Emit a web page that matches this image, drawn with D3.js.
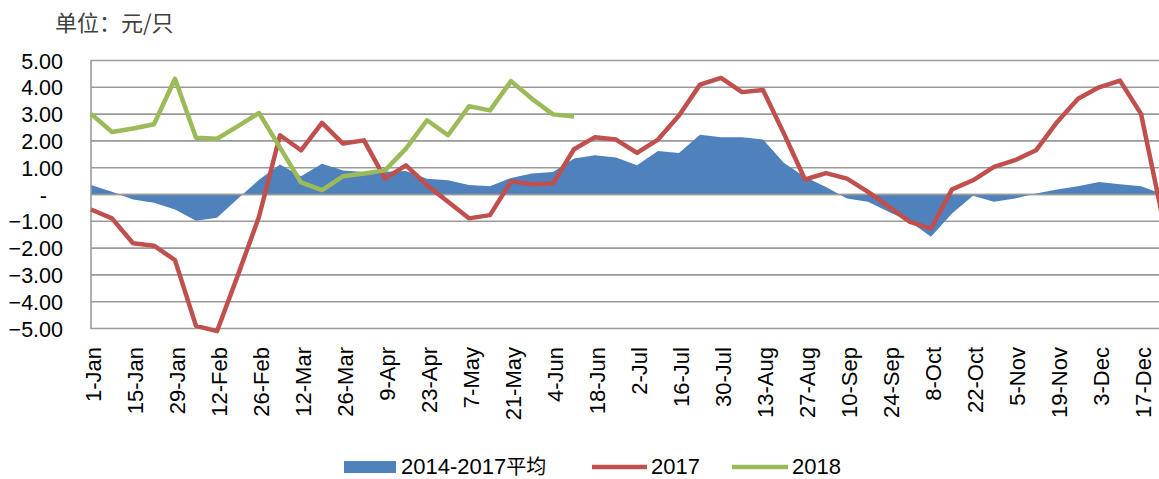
<!DOCTYPE html>
<html><head><meta charset="utf-8">
<script src="https://cdn.jsdelivr.net/npm/d3@7"></script>
<style>body{margin:0;background:#fff;} text{font-family:"Liberation Sans",Arial,sans-serif;}</style>
</head><body>
<svg id="chart" width="1159" height="479"></svg>
<script>
const weeks = ["1-Jan","8-Jan","15-Jan","22-Jan","29-Jan","5-Feb","12-Feb","19-Feb","26-Feb","5-Mar","12-Mar","19-Mar","26-Mar","2-Apr","9-Apr","16-Apr","23-Apr","30-Apr","7-May","14-May","21-May","28-May","4-Jun","11-Jun","18-Jun","25-Jun","2-Jul","9-Jul","16-Jul","23-Jul","30-Jul","6-Aug","13-Aug","20-Aug","27-Aug","3-Sep","10-Sep","17-Sep","24-Sep","1-Oct","8-Oct","15-Oct","22-Oct","29-Oct","5-Nov","12-Nov","19-Nov","26-Nov","3-Dec","10-Dec","17-Dec","24-Dec"];
const avg1417 = [0.35,0.10,-0.19,-0.31,-0.56,-0.98,-0.87,-0.15,0.55,1.12,0.68,1.15,0.90,0.84,0.85,0.88,0.59,0.53,0.35,0.31,0.62,0.78,0.84,1.34,1.46,1.38,1.09,1.62,1.55,2.23,2.14,2.14,2.05,1.18,0.65,0.28,-0.15,-0.27,-0.65,-1.02,-1.58,-0.71,-0.05,-0.27,-0.15,0.04,0.19,0.31,0.47,0.38,0.31,0.02];
const y2017 = [-0.56,-0.89,-1.82,-1.91,-2.45,-4.90,-5.10,-3.00,-0.83,2.21,1.65,2.67,1.90,2.02,0.59,1.09,0.35,-0.27,-0.89,-0.77,0.49,0.38,0.41,1.69,2.14,2.05,1.55,2.05,2.95,4.10,4.35,3.82,3.90,2.27,0.56,0.80,0.59,0.10,-0.46,-1.02,-1.27,0.19,0.53,1.03,1.28,1.65,2.70,3.57,4.00,4.25,3.01,-0.75];
const y2018 = [3.01,2.33,2.46,2.62,4.32,2.12,2.08,2.55,3.04,1.75,0.45,0.16,0.68,0.78,0.90,1.71,2.77,2.21,3.29,3.14,4.23,3.57,2.99,2.91];
const yTicks = [5,4,3,2,1,0,-1,-2,-3,-4,-5];
const legendNames = ["2014-2017平均","2017","2018"];
const colors = ["#4F81BD","#C0504D","#9BBB59"];

const svg = d3.select("#chart");
const x = d3.scalePoint().domain(weeks).range([91, 91 + 21*51]);
const y = d3.scaleLinear().domain([-5,5]).range([328.5, 60.5]);

// title
svg.append("text").attr("x",55).attr("y",31).attr("font-size",22).attr("fill","#404040")
  .style("font-family","'Noto Sans CJK SC',sans-serif").text("单位：元/只");

// gridlines
svg.append("g").selectAll("line").data(yTicks).join("line")
  .attr("x1",91).attr("x2",1159).attr("y1",d=>y(d)).attr("y2",d=>y(d))
  .attr("stroke","#9a9a9a").attr("stroke-width",1.6);

// y axis labels
const yAxis = d3.axisLeft(y).tickValues(yTicks).tickSize(0).tickPadding(0)
  .tickFormat(d => d===0 ? "-" : d3.format(".2f")(d));
const gy = svg.append("g").attr("transform","translate(63,0)").call(yAxis);
gy.select(".domain").remove();
gy.selectAll("text").attr("font-size",21.5).attr("fill","#000").attr("dy","0.35em")
  .style("font-family","'Liberation Sans',Arial,sans-serif");
gy.selectAll("text").filter(d=>d===0).attr("dx",-16);

// area
const area = d3.area().x((d,i)=>x(weeks[i])).y0(y(0)).y1(d=>y(d));
svg.append("path").datum(avg1417).attr("d",area).attr("fill",colors[0]);

svg.append("line").attr("x1",91).attr("x2",1159).attr("y1",y(0)).attr("y2",y(0))
  .attr("stroke","#9a9a9a").attr("stroke-width",1.6);

// y axis line
svg.append("line").attr("x1",91).attr("x2",91).attr("y1",60).attr("y2",329)
  .attr("stroke","#9a9a9a").attr("stroke-width",1.6);

const line = d3.line().x((d,i)=>x(weeks[i])).y(d=>y(d));
svg.append("path").datum(y2017).attr("d",line).attr("fill","none")
  .attr("stroke",colors[1]).attr("stroke-width",4.5).attr("stroke-linejoin","round");
svg.append("path").datum(y2018).attr("d",line).attr("fill","none")
  .attr("stroke",colors[2]).attr("stroke-width",4.5).attr("stroke-linejoin","round");

// x axis labels
const xAxis = d3.axisBottom(x).tickValues(weeks.filter((d,i)=>i%2===0)).tickSize(0).tickPadding(0);
const gx = svg.append("g").attr("transform","translate(2,347)").call(xAxis);
gx.select(".domain").remove();
gx.selectAll("text").attr("transform","rotate(-90)").attr("text-anchor","end")
  .attr("x",0).attr("y",0).attr("dy","0.35em").attr("dx",0)
  .attr("font-size",22).attr("fill","#000")
  .style("font-family","'Liberation Sans',Arial,sans-serif");

// legend
const lg = svg.append("g");
lg.append("rect").attr("x",344).attr("y",461).attr("width",52).attr("height",12).attr("fill",colors[0]);
lg.append("text").attr("x",401).attr("y",474).attr("font-size",22).text("2014-2017")
  .append("tspan").style("font-family","'Noto Sans CJK SC',sans-serif").attr("font-size",20).text("平均");
lg.append("line").attr("x1",592).attr("x2",647).attr("y1",467).attr("y2",467).attr("stroke",colors[1]).attr("stroke-width",4.5);
lg.append("text").attr("x",651).attr("y",474).attr("font-size",22).text(legendNames[1]);
lg.append("line").attr("x1",732).attr("x2",788).attr("y1",467).attr("y2",467).attr("stroke",colors[2]).attr("stroke-width",4.5);
lg.append("text").attr("x",792).attr("y",474).attr("font-size",22).text(legendNames[2]);
</script>
</body></html>
